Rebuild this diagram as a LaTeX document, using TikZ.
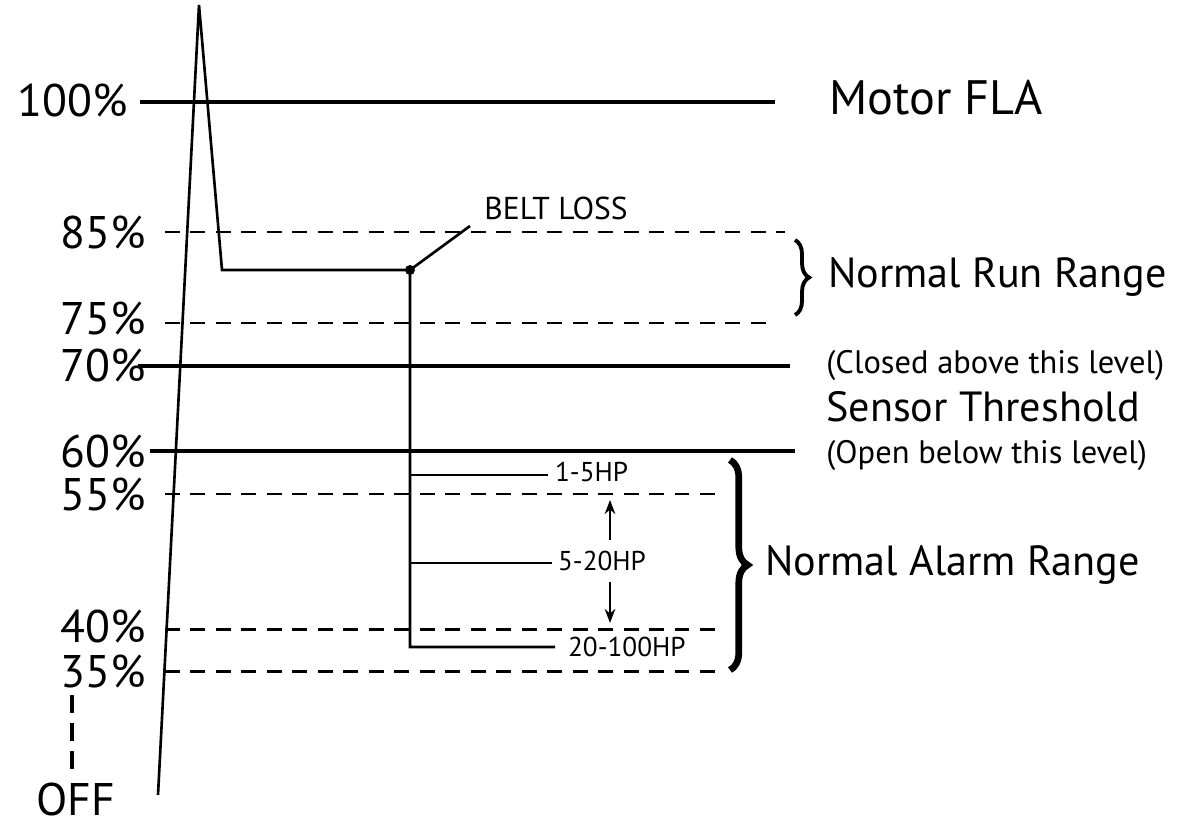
\documentclass[tikz,border=0pt]{standalone}
\usepackage{fontspec}
\setmainfont{PT Sans}
\usetikzlibrary{decorations.pathreplacing,arrows.meta}
\begin{document}
\begin{tikzpicture}[x=0.02cm,y=-0.02cm,
  lvl/.style={line width=2.3pt},
  dl/.style={line width=1.7pt,dash pattern=on 8.5pt off 6pt},
  pct/.style={anchor=east,font=\fontsize{26}{28}\selectfont,inner sep=0},
  big/.style={anchor=west,font=\fontsize{24}{27}\selectfont,inner sep=0},
  mid/.style={anchor=west,font=\fontsize{18.5}{21}\selectfont,inner sep=0},
  sm/.style={font=\fontsize{15.5}{17}\selectfont,inner sep=1pt},
  tr/.style={line width=1.5pt}]
\useasboundingbox (0,0) rectangle (1186,828);
% levels
\coordinate (a1) at (140,102); \coordinate (a2) at (775,102);
\draw[lvl] (a1) -- (a2);
\coordinate (b1) at (165,232); \coordinate (b2) at (785,232); \draw[dl] (b1) -- (b2);
\coordinate (c1) at (165,323); \coordinate (c2) at (770,323); \draw[dl] (c1) -- (c2);
\coordinate (d1) at (138,366); \coordinate (d2) at (790,366); \draw[lvl] (d1) -- (d2);
\coordinate (e1) at (150,451); \coordinate (e2) at (795,451); \draw[lvl] (e1) -- (e2);
\coordinate (f1) at (165,494); \coordinate (f2) at (722,494); \draw[dl] (f1) -- (f2);
\coordinate (g1) at (165,629); \coordinate (g2) at (722,629); \draw[dl] (g1) -- (g2);
\coordinate (h1) at (165,671); \coordinate (h2) at (725,671); \draw[dl] (h1) -- (h2);
\coordinate (o1) at (72,695); \coordinate (o2) at (72,772);
\draw[line width=2.5pt,dash pattern=on 10pt off 6pt] (o1) -- (o2);
% labels
\node[pct] (l100) at (128,100) {100\%};
\node[pct] (l85) at (146,232) {85\%};
\node[pct] (l75) at (146,318) {75\%};
\node[pct] (l70) at (146,365) {70\%};
\node[pct] (l60) at (146,451) {60\%};
\node[pct] (l55) at (146,494) {55\%};
\node[pct] (l40) at (146,626) {40\%};
\node[pct] (l35) at (146,671) {35\%};
\node[pct] (loff) at (115,800) {OFF};
\node[big,font=\fontsize{27.5}{30}\selectfont] (fla) at (829,98) {Motor FLA};
\node[big] (nrr) at (828,277) {Normal Run Range};
\node[mid] (cl) at (826,366) {(Closed above this level)};
\node[big] (st) at (826,407) {Sensor Threshold};
\node[mid] (op) at (826,455) {(Open below this level)};
\node[big] (nar) at (765,565) {Normal Alarm Range};
% trace
\coordinate (t0) at (158,795); \coordinate (t1) at (199,5); \coordinate (t2) at (222,270);
\coordinate (bl) at (410,270); \coordinate (t3) at (410,647); \coordinate (t4) at (555,647);
\draw[tr] (t0) -- (t1) -- (t2) -- (bl) -- (t3) -- (t4);
\fill (bl) circle (5);
\coordinate (k1) at (410,475); \coordinate (k2) at (548,475); \draw[tr] (k1) -- (k2);
\coordinate (m1) at (410,563); \coordinate (m2) at (552,563); \draw[tr] (m1) -- (m2);
\node[sm,anchor=west] (hp1) at (553,472) {1-5HP};
\node[sm,anchor=west] (hp2) at (556,561) {5-20HP};
\node[sm,anchor=west] (hp3) at (566,647) {20-100HP};
\node[anchor=west,font=\fontsize{18}{20}\selectfont,inner sep=0] (belt) at (484,208) {BELT LOSS};
\coordinate (bk) at (470,226); \draw[tr] (bl) -- (bk);
\coordinate (u1) at (610,540); \coordinate (u2) at (610,500);
\coordinate (w1) at (610,582); \coordinate (w2) at (610,623);
\draw[line width=1.6pt,-{Stealth[length=8pt]}] (u1) -- (u2);
\draw[line width=1.6pt,-{Stealth[length=8pt]}] (w1) -- (w2);
% braces
\coordinate (r1) at (795,240); \coordinate (r2) at (795,315);
\draw[line width=2.2pt,decorate,decoration={brace,amplitude=8pt}] (r1) -- (r2);
\coordinate (s1) at (730,460); \coordinate (s2) at (730,670);
\draw[line width=3.8pt,decorate,decoration={brace,amplitude=10pt}] (s1) -- (s2);
\end{tikzpicture}
\end{document}
